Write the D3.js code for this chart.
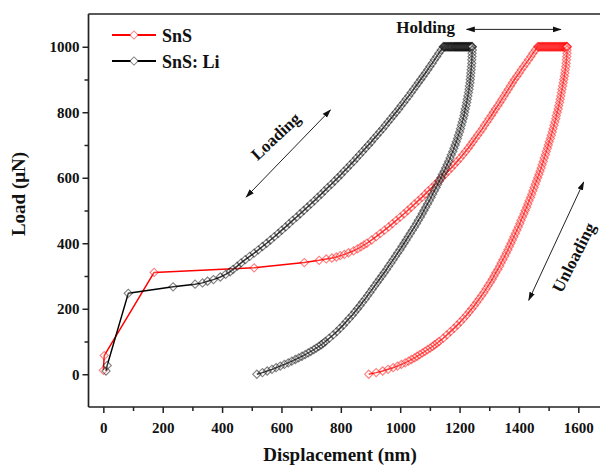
<!DOCTYPE html>
<html>
<head>
<meta charset="utf-8">
<script src="https://cdn.jsdelivr.net/npm/d3@7"></script>
<style>
  html, body { margin: 0; padding: 0; background: #fff; }
  svg { display: block; font-family: "Liberation Serif", "Times New Roman", serif; font-weight: bold; }
</style>
</head>
<body>
<svg id="chart" width="600" height="465"></svg>
<script>
// ---- Load–displacement data, [displacement (nm), load (µN)] ----
const seriesNames = ["SnS", "SnS: Li"];

const snsLoading = [
  [0,12],[3,57],[171,311],[508,325],[677,341],[727,348],[751,352],[770,355],[785,358],[798,362],
  [812,366],[826,371],[843,377],[856,383],[868,389],[878,395],[888,400],[904,410],[919,420],[933,430],
  [947,440],[961,450],[974,460],[987,470],[1000,480],[1013,490],[1025,500],[1037,510],[1049,520],
  [1061,530],[1073,540],[1084,550],[1095,560],[1107,570],[1118,580],[1129,590],[1140,600],[1151,610],
  [1161,620],[1172,630],[1182,640],[1192,650],[1202,660],[1211,670],[1220,680],[1229,690],[1237,700],
  [1245,710],[1253,720],[1261,730],[1269,740],[1277,750],[1284,760],[1292,770],[1299,780],[1307,790],
  [1314,800],[1321,810],[1329,820],[1336,830],[1343,840],[1350,850],[1357,860],[1364,870],[1371,880],
  [1378,890],[1385,900],[1393,910],[1401,920],[1408,930],[1416,940],[1424,950],[1432,960],[1440,970],
  [1447,980],[1455,990],[1463,1000]
];
const snsHolding = [
  [1465,1000],[1468,1000],[1470,1000],[1473,1000],[1475,1000],[1478,1000],[1480,1000],[1483,1000],
  [1485,1000],[1488,1000],[1490,1000],[1492,1000],[1495,1000],[1497,1000],[1500,1000],[1502,1000],
  [1504,1000],[1507,1000],[1509,1000],[1511,1000],[1514,1000],[1516,1000],[1518,1000],[1521,1000],
  [1523,1000],[1525,1000],[1528,1000],[1530,1000],[1532,1000],[1535,1000],[1537,1000],[1539,1000],
  [1541,1000],[1544,1000],[1546,1000],[1548,1000],[1550,1000],[1552,1000],[1554,1000],[1556,1000],
  [1558,1000],[1560,1000],[1561,1000],[1562,1000],[1563,1000]
];
const snsUnloading = [
  [1562,990],[1562,980],[1561,970],[1560,960],[1559,950],[1558,940],[1556,930],[1555,920],[1553,910],
  [1551,900],[1549,890],[1547,880],[1545,870],[1543,860],[1541,850],[1539,840],[1537,830],[1534,820],
  [1532,810],[1529,800],[1526,790],[1524,780],[1521,770],[1518,760],[1515,750],[1512,740],[1509,730],
  [1506,720],[1502,710],[1499,700],[1496,690],[1492,680],[1489,670],[1485,660],[1482,650],[1478,640],
  [1475,630],[1471,620],[1467,610],[1463,600],[1459,590],[1455,580],[1451,570],[1447,560],[1443,550],
  [1439,540],[1434,530],[1430,520],[1426,510],[1421,500],[1417,490],[1412,480],[1407,470],[1403,460],
  [1398,450],[1393,440],[1388,430],[1383,420],[1378,410],[1373,400],[1368,390],[1363,380],[1357,370],
  [1352,360],[1346,350],[1340,340],[1335,330],[1329,320],[1322,310],[1316,300],[1310,290],[1303,280],
  [1296,270],[1289,260],[1282,250],[1274,240],[1266,230],[1258,220],[1250,210],[1241,200],[1232,190],
  [1223,180],[1213,170],[1203,160],[1192,150],[1181,140],[1169,130],[1157,120],[1145,110],[1131,100],
  [1124,95],[1116,90],[1109,85],[1101,80],[1092,75],[1084,70],[1075,65],[1066,60],[1057,55],[1048,50],
  [1038,45],[1028,40],[1017,35],[1004,30],[991,25],[976,20],[959,15],[941,10],[919,5],[894,0]
];

const snsLiLoading = [
  [9,10],[13,27],[84,247],[235,267],[309,275],[334,279],[351,284],[371,289],[394,297],[412,305],
  [427,313],[437,320],[451,330],[464,340],[478,350],[493,360],[508,370],[522,380],[536,390],[550,400],
  [563,410],[576,420],[589,430],[601,440],[614,450],[626,460],[638,470],[651,480],[663,490],[675,500],
  [687,510],[699,520],[711,530],[722,540],[734,550],[745,560],[756,570],[768,580],[779,590],[790,600],
  [801,610],[811,620],[822,630],[832,640],[843,650],[853,660],[863,670],[873,680],[883,690],[893,700],
  [903,710],[912,720],[922,730],[931,740],[941,750],[950,760],[959,770],[968,780],[977,790],[986,800],
  [995,810],[1003,820],[1012,830],[1020,840],[1029,850],[1037,860],[1045,870],[1053,880],[1061,890],
  [1069,900],[1077,910],[1085,920],[1093,930],[1100,940],[1108,950],[1115,960],[1123,970],[1130,980],
  [1138,990],[1145,1000]
];
const snsLiHolding = [
  [1147,1000],[1149,1000],[1152,1000],[1154,1000],[1157,1000],[1159,1000],[1162,1000],[1164,1000],
  [1166,1000],[1169,1000],[1171,1000],[1173,1000],[1175,1000],[1177,1000],[1180,1000],[1182,1000],
  [1184,1000],[1186,1000],[1188,1000],[1190,1000],[1192,1000],[1194,1000],[1196,1000],[1198,1000],
  [1200,1000],[1202,1000],[1204,1000],[1206,1000],[1208,1000],[1210,1000],[1212,1000],[1214,1000],
  [1216,1000],[1218,1000],[1220,1000],[1222,1000],[1224,1000],[1226,1000],[1228,1000],[1230,1000],
  [1232,1000],[1234,1000],[1236,1000],[1238,1000],[1240,1000],[1242,1000],[1243,1000]
];
const snsLiUnloading = [
  [1243,990],[1242,980],[1242,970],[1241,960],[1241,950],[1240,940],[1239,930],[1238,920],[1237,910],
  [1236,900],[1235,890],[1233,880],[1232,870],[1230,860],[1228,850],[1226,840],[1224,830],[1222,820],
  [1219,810],[1217,800],[1215,790],[1212,780],[1209,770],[1206,760],[1203,750],[1200,740],[1196,730],
  [1193,720],[1189,710],[1185,700],[1181,690],[1177,680],[1172,670],[1168,660],[1163,650],[1158,640],
  [1153,630],[1148,620],[1142,610],[1137,600],[1132,590],[1126,580],[1121,570],[1115,560],[1109,550],
  [1104,540],[1098,530],[1092,520],[1086,510],[1080,500],[1074,490],[1068,480],[1061,470],[1055,460],
  [1048,450],[1041,440],[1034,430],[1027,420],[1020,410],[1013,400],[1006,390],[999,380],[991,370],
  [984,360],[976,350],[969,340],[961,330],[954,320],[946,310],[938,300],[930,290],[922,280],[914,270],
  [906,260],[898,250],[890,240],[882,230],[873,220],[865,210],[856,200],[847,190],[838,180],[828,170],
  [818,160],[808,150],[797,140],[786,130],[774,120],[761,110],[748,100],[741,95],[734,90],[726,85],
  [717,80],[709,75],[699,70],[690,65],[680,60],[669,55],[658,50],[647,45],[635,40],[623,35],[610,30],
  [596,25],[582,20],[568,15],[552,10],[536,5],[517,0]
];

// ---- Axis ticks ----
const xMajorTicks = [0, 200, 400, 600, 800, 1000, 1200, 1400, 1600];
const xMinorTicks = [100, 300, 500, 700, 900, 1100, 1300, 1500];
const yMajorTicks = [0, 200, 400, 600, 800, 1000];
const yMinorTicks = [100, 300, 500, 700, 900];

// ---- Annotations (data coordinates) ----
const arrowNotes = [
  { from: [481, 541], to: [765, 807] },     // loading direction
  { from: [1224, 1053], to: [1541, 1053] }, // holding span
  { from: [1433, 226], to: [1618, 587] }    // unloading direction
];
const textNotes = [
  { text: "Loading",   at: [580, 727],  angle: -43, anchor: "middle" },
  { text: "Holding",   at: [987, 1042], angle: 0,   anchor: "start" },
  { text: "Unloading", at: [1584, 357], angle: -63, anchor: "middle" }
];

const colors = ["#ff0000", "#000000"];

const svg = d3.select("#chart");
const x = d3.scaleLinear().domain([-50, 1700]).range([88.5, 608]);
const y = d3.scaleLinear().domain([-100, 1100]).range([407, 14]);

const axisColor = "#222";

// arrowhead marker
svg.append("defs").append("marker")
  .attr("id", "arrowhead")
  .attr("viewBox", "0 0 10 10")
  .attr("refX", 9).attr("refY", 5)
  .attr("markerWidth", 9).attr("markerHeight", 9)
  .attr("markerUnits", "userSpaceOnUse")
  .attr("orient", "auto-start-reverse")
  .append("path").attr("d", "M0,1.8 L10,5 L0,8.2 Z").attr("fill", "#111");

// ---- Series ----
const plot = svg.append("g");
const line = d3.line().x(d => x(d[0])).y(d => y(d[1]));
const diamond = d3.symbol(d3.symbolSquare, 34)();

function drawSeries(points, color) {
  plot.append("path")
    .datum(points)
    .attr("d", line)
    .attr("fill", "none")
    .attr("stroke", color)
    .attr("stroke-width", 1.5)
    .attr("stroke-linejoin", "round");
  plot.append("g").selectAll("path")
    .data(points)
    .join("path")
    .attr("d", diamond)
    .attr("transform", d => `translate(${x(d[0])},${y(d[1])}) rotate(45)`)
    .attr("fill", "#fff")
    .attr("fill-opacity", 0.2)
    .attr("stroke", color)
    .attr("stroke-opacity", 0.5)
    .attr("stroke-width", 1.1);
}

drawSeries([...snsLoading, ...snsHolding, ...snsUnloading], colors[0]);
drawSeries([...snsLiLoading, ...snsLiHolding, ...snsLiUnloading], colors[1]);

// ---- Axes ----
function styleAxis(g) {
  g.select(".domain").remove();
  g.selectAll("line").attr("stroke", axisColor).attr("stroke-width", 1.5);
  g.selectAll("text")
    .attr("fill", "#111")
    .style("font-family", "'Liberation Serif', 'Times New Roman', serif")
    .style("font-weight", "bold")
    .style("font-size", "15px");
}

svg.append("g").attr("transform", `translate(0,${y(-100)})`)
  .call(d3.axisBottom(x).tickValues(xMajorTicks).tickSize(6).tickPadding(9).tickFormat(d3.format("d")))
  .call(styleAxis);
svg.append("g").attr("transform", `translate(0,${y(-100)})`)
  .call(d3.axisBottom(x).tickValues(xMinorTicks).tickSize(4).tickFormat(""))
  .call(styleAxis);
svg.append("g").attr("transform", `translate(${x(-50)},0)`)
  .call(d3.axisLeft(y).tickValues(yMajorTicks).tickSize(6).tickPadding(3).tickFormat(d3.format("d")))
  .call(styleAxis);
svg.append("g").attr("transform", `translate(${x(-50)},0)`)
  .call(d3.axisLeft(y).tickValues(yMinorTicks).tickSize(4).tickFormat(""))
  .call(styleAxis);

// frame lines: left, bottom, top
const frame = svg.append("g").attr("stroke", axisColor).attr("stroke-width", 1.7).attr("fill", "none");
frame.append("line").attr("x1", x(-50)).attr("x2", x(-50)).attr("y1", y(1100)).attr("y2", y(-100));
frame.append("line").attr("x1", x(-50)).attr("x2", x(1700)).attr("y1", y(-100)).attr("y2", y(-100));
frame.append("line").attr("x1", x(-50)).attr("x2", x(1700)).attr("y1", y(1100)).attr("y2", y(1100));

// ---- Axis titles ----
svg.append("text")
  .attr("x", 340).attr("y", 461)
  .attr("text-anchor", "middle")
  .attr("font-size", 19).attr("fill", "#111")
  .text("Displacement (nm)");
svg.append("text")
  .attr("transform", "translate(25,194) rotate(-90)")
  .attr("text-anchor", "middle")
  .attr("font-size", 19).attr("fill", "#111")
  .text("Load (\u03bcN)");

// ---- Legend ----
const legend = svg.append("g");
seriesNames.forEach((name, i) => {
  const ly = 35 + i * 26;
  legend.append("line")
    .attr("x1", 112).attr("x2", 156).attr("y1", ly).attr("y2", ly)
    .attr("stroke", colors[i]).attr("stroke-width", 1.8);
  legend.append("path")
    .attr("d", diamond)
    .attr("transform", `translate(134,${ly}) rotate(45)`)
    .attr("fill", "#fff")
    .attr("stroke", colors[i]).attr("stroke-opacity", 0.5).attr("stroke-width", 1);
  legend.append("text")
    .attr("x", 162).attr("y", ly + 6.5)
    .attr("font-size", 18).attr("fill", "#111")
    .text(name);
});

// ---- Annotations ----
const notes = svg.append("g");
arrowNotes.forEach(a => {
  notes.append("line")
    .attr("x1", x(a.from[0])).attr("y1", y(a.from[1]))
    .attr("x2", x(a.to[0])).attr("y2", y(a.to[1]))
    .attr("stroke", "#222").attr("stroke-width", 1)
    .attr("marker-start", "url(#arrowhead)")
    .attr("marker-end", "url(#arrowhead)");
});
textNotes.forEach(t => {
  notes.append("text")
    .attr("transform", `translate(${x(t.at[0])},${y(t.at[1])}) rotate(${t.angle})`)
    .attr("text-anchor", t.anchor)
    .attr("dy", t.angle === 0 ? 0 : "0.35em")
    .attr("font-size", 17).attr("fill", "#111")
    .text(t.text);
});
</script>
</body>
</html>
